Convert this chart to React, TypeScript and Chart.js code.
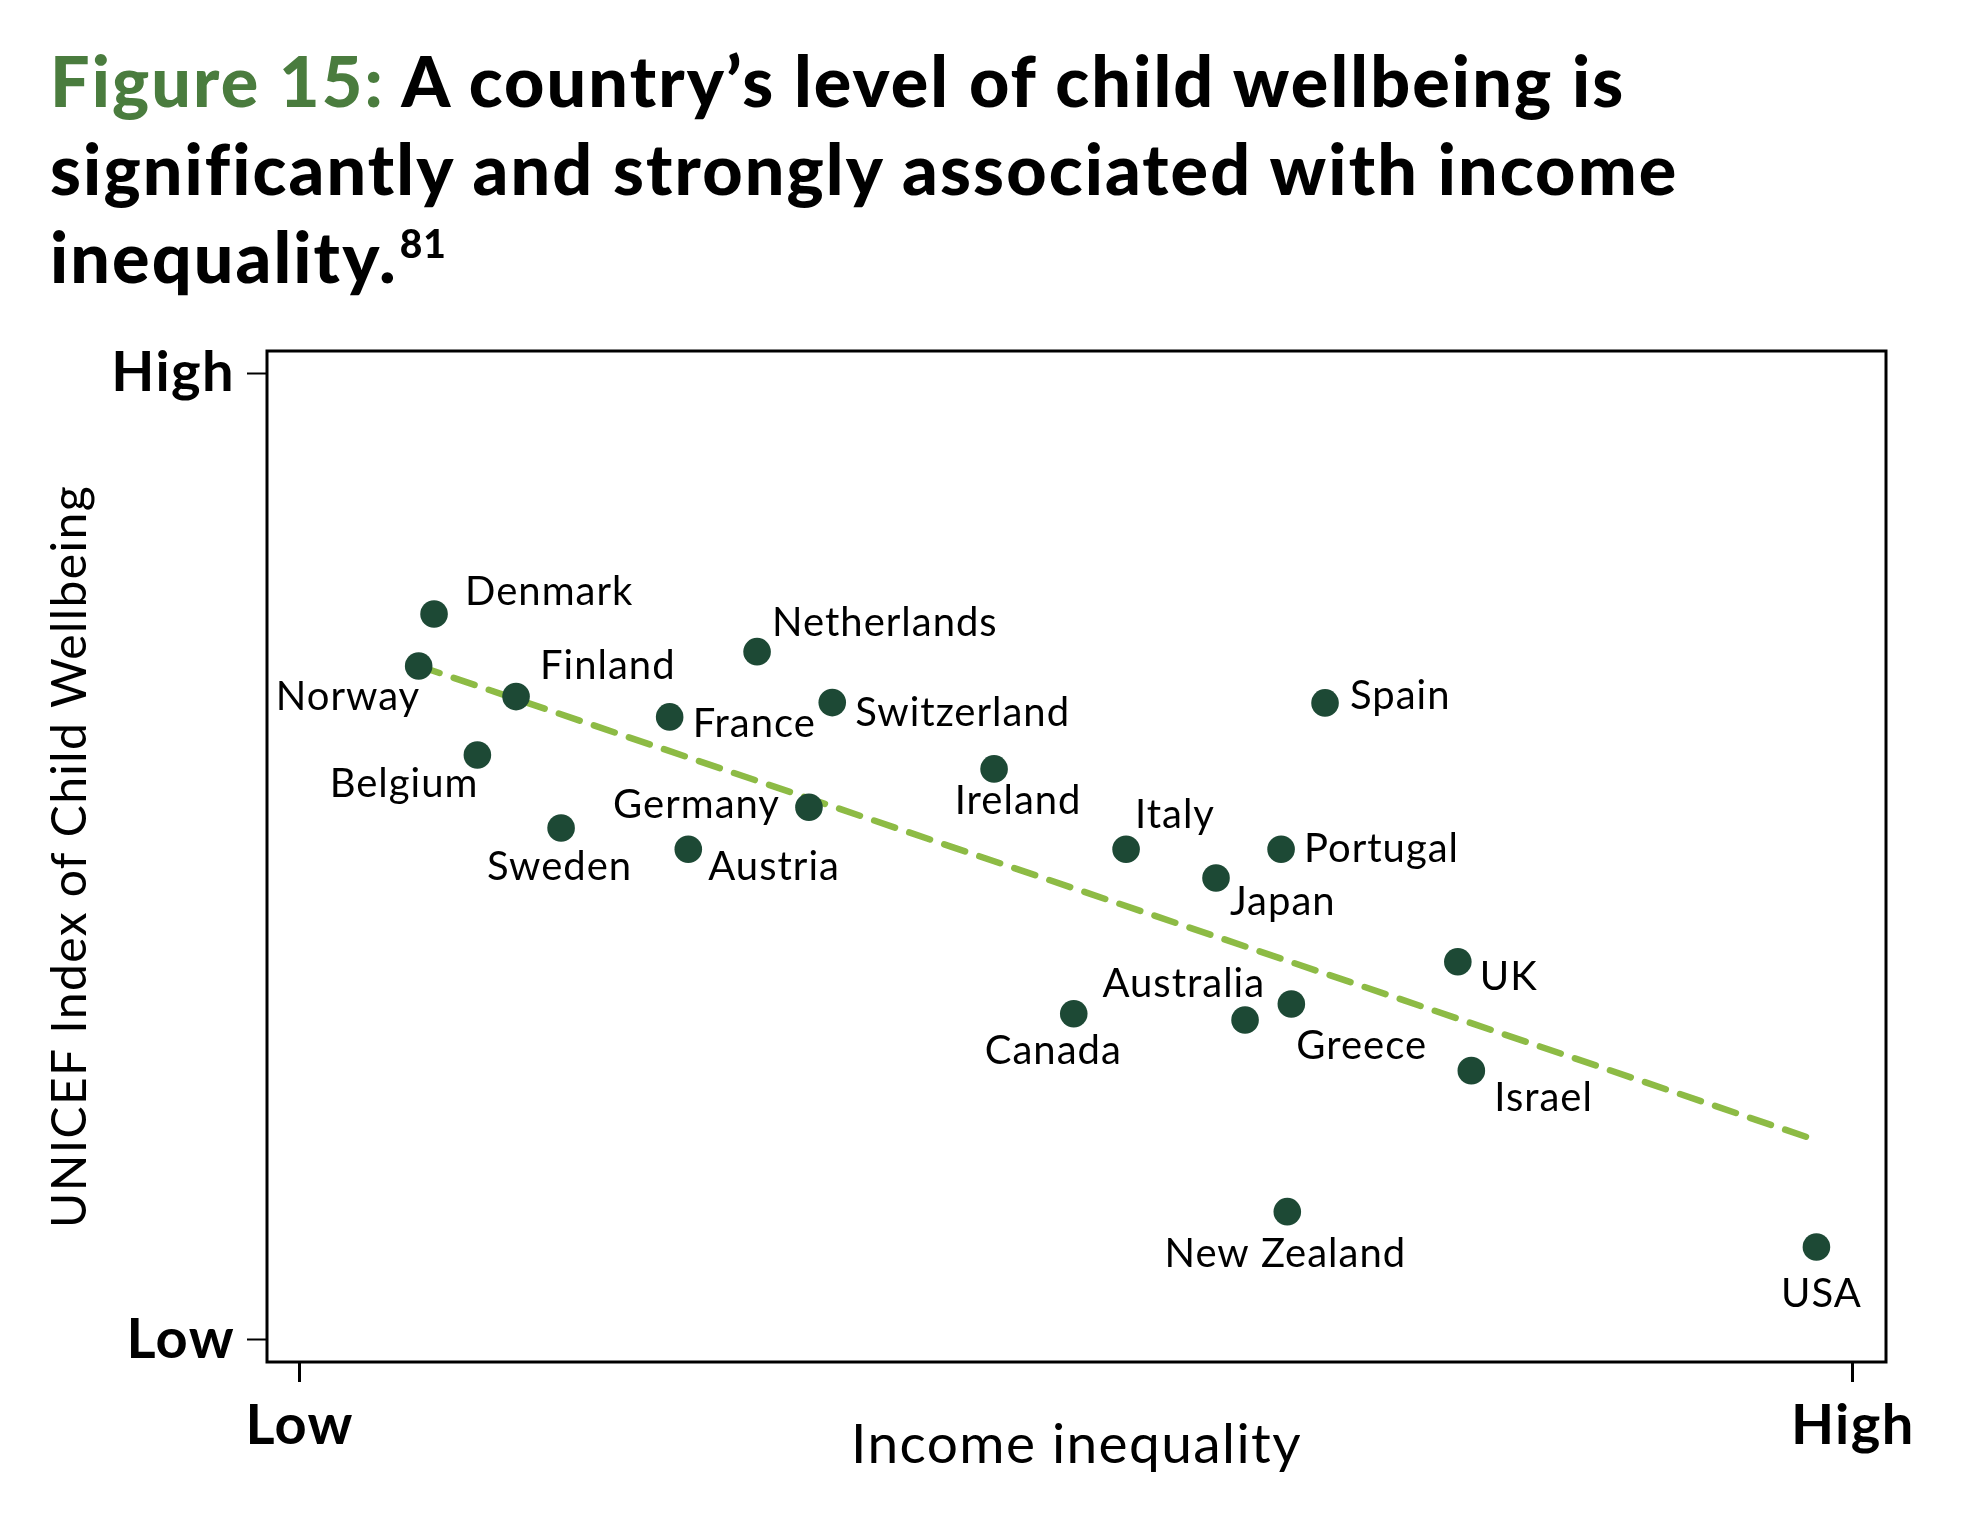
import React, { useEffect, useRef } from "react";
import { Chart, registerables } from "chart.js";

Chart.register(...registerables);

// ---------------- data ----------------
const COUNTRIES = [
  "Denmark", "Norway", "Finland", "Belgium", "Sweden", "France", "Netherlands",
  "Switzerland", "Germany", "Austria", "Ireland", "Italy", "Japan", "Portugal",
  "Spain", "Canada", "Australia", "Greece", "UK", "Israel", "New Zealand", "USA",
];
// Income inequality (0 = Low, 100 = High)
const INEQUALITY = [
  8.65, 7.66, 13.93, 11.44, 16.83, 23.82, 29.45,
  34.29, 32.79, 25.02, 44.71, 53.21, 59.0, 63.19,
  66.02, 49.84, 60.87, 63.85, 74.57, 75.44, 63.59, 97.66,
];
// UNICEF Index of Child Wellbeing (0 = Low, 100 = High)
const WELLBEING = [
  75.1, 69.72, 66.55, 60.51, 52.96, 64.45, 71.2,
  65.93, 55.1, 50.76, 59.07, 50.76, 47.79, 50.76,
  65.9, 33.75, 33.1, 34.76, 39.13, 27.86, 13.27, 9.62,
];
const TREND_X = [7.66, 97.46];
const TREND_Y = [69.72, 20.76];
const AXIS_TICKS = [0, 100];
const AXIS_TICK_LABELS = ["Low", "High"];

const TITLE_LEAD = "Figure 15:";
const TITLE_LINES = [
  " A country’s level of child wellbeing is",
  "significantly and strongly associated with income",
  "inequality.",
];
const TITLE_NOTE = "81";
const X_TITLE = "Income inequality";
const Y_TITLE = "UNICEF Index of Child Wellbeing";

// ---------------- style ----------------
const FONT = "Lato, 'Noto Sans', sans-serif";
const GREEN_TITLE = "#4a7c3e";
const DOT = "#1d4935";
const TREND = "#8dbb45";

// label placement relative to each point: [align, dx, dy(baseline)]
const LABEL_PLACEMENT: [CanvasTextAlign, number, number][] = [
  ["left", 31, -9],
  ["right", 1.5, 44],
  ["left", 24, -18],
  ["right", 1, 42],
  ["center", -1.5, 52],
  ["left", 23, 20],
  ["left", 15, -16],
  ["left", 23, 23],
  ["right", -29, 11],
  ["left", 20, 31],
  ["center", 24, 45],
  ["left", 9, -21],
  ["left", 14, 37],
  ["left", 23, 13],
  ["left", 25, 6],
  ["center", -20.5, 50],
  ["right", 20, -23],
  ["left", 5, 55],
  ["left", 22, 28],
  ["left", 23, 40],
  ["center", -2, 55],
  ["center", 5, 60],
];

const tickLabel = (v: number | string) => {
  const i = AXIS_TICKS.indexOf(Number(v));
  return i >= 0 ? AXIS_TICK_LABELS[i] : "";
};

const spacingPlugin = {
  id: "spacing",
  beforeDraw(chart: any) {
    (chart.ctx as any).letterSpacing = "1.4px";
  },
};

const framePlugin = {
  id: "frame",
  beforeDatasetsDraw(chart: any) {
    const { ctx, chartArea } = chart;
    ctx.save();
    ctx.strokeStyle = "#000";
    ctx.lineWidth = 3;
    ctx.strokeRect(chartArea.left, chartArea.top, chartArea.right - chartArea.left, chartArea.bottom - chartArea.top);
    ctx.restore();
  },
};

const labelPlugin = {
  id: "pointLabels",
  afterDatasetsDraw(chart: any) {
    const { ctx } = chart;
    const meta = chart.getDatasetMeta(0);
    ctx.save();
    ctx.font = `400 40px ${FONT}`;
    (ctx as any).letterSpacing = "1px";
    ctx.fillStyle = "#000";
    ctx.textBaseline = "alphabetic";
    meta.data.forEach((pt: any, i: number) => {
      const [align, dx, dy] = LABEL_PLACEMENT[i];
      ctx.textAlign = align;
      ctx.fillText(COUNTRIES[i], pt.x + dx, pt.y + dy);
    });
    ctx.restore();
  },
};

export default function App() {
  const ref = useRef<HTMLCanvasElement | null>(null);

  useEffect(() => {
    if (!ref.current) return;
    const chart = new Chart(ref.current, {
      type: "scatter",
      data: {
        datasets: [
          {
            label: "Countries",
            data: INEQUALITY.map((x, i) => ({ x, y: WELLBEING[i] })),
            backgroundColor: DOT,
            borderColor: DOT,
            borderWidth: 0,
            pointRadius: 13.8,
            pointHoverRadius: 13.8,
            order: 0,
          },
          {
            label: "Trend",
            data: TREND_X.map((x, i) => ({ x, y: TREND_Y[i] })),
            showLine: true,
            borderColor: TREND,
            borderWidth: 6.5,
            borderDash: [22, 15],
            borderCapStyle: "round",
            pointRadius: 0,
            pointHoverRadius: 0,
            order: 1,
          } as any,
        ],
      },
      options: {
        animation: false,
        responsive: false,
        devicePixelRatio: 1,
        layout: { padding: { top: 351, right: 88, bottom: 0, left: 0 } },
        plugins: { legend: { display: false }, tooltip: { enabled: false } },
        events: [],
        scales: {
          x: {
            type: "linear",
            min: -2.106,
            max: 102.14,
            afterBuildTicks: (s: any) => {
              s.ticks = AXIS_TICKS.map((v) => ({ value: v }));
            },
            afterFit: (s: any) => {
              s.height = 162;
            },
            ticks: {
              callback: tickLabel,
              autoSkip: false,
              maxRotation: 0,
              padding: 10,
              color: "#000",
              font: { family: FONT, size: 56, weight: "bold", lineHeight: 1.2 },
            },
            grid: {
              drawOnChartArea: false,
              drawTicks: true,
              tickLength: 20,
              tickWidth: 3,
              tickColor: "#000",
            },
            border: { display: false },
            title: {
              display: true,
              text: X_TITLE,
              color: "#000",
              font: { family: FONT, size: 55, weight: "normal", lineHeight: 1.2 },
              padding: { top: 0, bottom: 46 },
            },
          },
          y: {
            type: "linear",
            min: -2.28,
            max: 102.3,
            afterBuildTicks: (s: any) => {
              s.ticks = AXIS_TICKS.map((v) => ({ value: v }));
            },
            afterFit: (s: any) => {
              s.width = 267;
            },
            ticks: {
              callback: tickLabel,
              autoSkip: false,
              padding: 12,
              color: "#000",
              font: { family: FONT, size: 56, weight: "bold", lineHeight: 1.2 },
            },
            grid: {
              drawOnChartArea: false,
              drawTicks: true,
              tickLength: 20,
              tickWidth: 2,
              tickColor: "#000",
            },
            border: { display: false },
            title: {
              display: true,
              text: Y_TITLE,
              color: "#000",
              font: { family: FONT, size: 48, weight: "normal", lineHeight: 1.2 },
              padding: { top: 42, bottom: 0 },
            },
          },
        },
      },
      plugins: [spacingPlugin, framePlugin, labelPlugin],
    });
    return () => chart.destroy();
  }, []);

  return (
    <div style={{ position: "absolute", left: 0, top: 0, width: 1974, height: 1524, background: "#fff", overflow: "hidden" }}>
      <canvas ref={ref} width={1974} height={1524} style={{ position: "absolute", left: 0, top: 0, width: 1974, height: 1524 }} />
      <div
        style={{
          position: "absolute",
          left: 50,
          top: 36,
          fontFamily: FONT,
          fontWeight: 900,
          fontSize: 70,
          letterSpacing: "2.1px",
          lineHeight: "88px",
          color: "#000",
          whiteSpace: "nowrap",
        }}
      >
        <span style={{ color: GREEN_TITLE }}>{TITLE_LEAD}</span>
        {TITLE_LINES[0]}
        <br />
        {TITLE_LINES[1]}
        <br />
        {TITLE_LINES[2]}
        <span style={{ fontSize: 39, position: "relative", top: -25, marginLeft: 2, letterSpacing: "1px" }}>{TITLE_NOTE}</span>
      </div>
    </div>
  );
}
